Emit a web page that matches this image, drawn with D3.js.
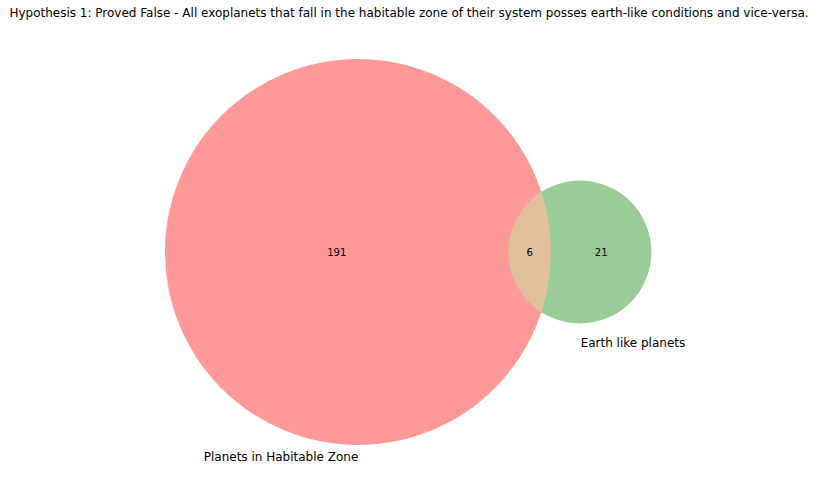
<!DOCTYPE html>
<html><head><meta charset="utf-8">
<script src="https://cdn.jsdelivr.net/npm/d3@7"></script>
<style>body{margin:0;background:#fff}text{font-family:"DejaVu Sans",sans-serif}</style>
</head><body><svg width="818" height="488"></svg>
<script>
var setNames = ["Planets in Habitable Zone", "Earth like planets"];
var onlyA = 191, onlyB = 21, both = 6;
var title = "Hypothesis 1: Proved False - All exoplanets that fall in the habitable zone of their system posses earth-like conditions and vice-versa.";

var svg = d3.select("svg");
var sizeA = onlyA + both, sizeB = onlyB + both;

// radius proportional to sqrt(area)
var r = d3.scaleSqrt().domain([0, sizeA]).range([0, 193]);
var rA = r(sizeA), rB = r(sizeB);
var k = rA * rA / sizeA; // px^2 per unit scaled by pi later
function lens(d) {
  var a = rA, b = rB;
  if (d >= a + b) return 0;
  var p1 = a * a * Math.acos((d * d + a * a - b * b) / (2 * d * a));
  var p2 = b * b * Math.acos((d * d + b * b - a * a) / (2 * d * b));
  var p3 = 0.5 * Math.sqrt((-d + a + b) * (d + a - b) * (d - a + b) * (d + a + b));
  return p1 + p2 - p3;
}
var target = both * Math.PI * k;
var lo = rA - rB, hi = rA + rB;
for (var i = 0; i < 60; i++) { var m = (lo + hi) / 2; if (lens(m) > target) lo = m; else hi = m; }
var dist = (lo + hi) / 2;

var cy = 252, cxA = 358, cxB = cxA + dist;

svg.append("text").attr("x", 409).attr("y", 17).attr("text-anchor", "middle")
  .style("font-size", "12px").text(title);

svg.append("defs").append("clipPath").attr("id", "clipB")
  .append("circle").attr("cx", cxB).attr("cy", cy).attr("r", rB);

svg.append("circle").attr("cx", cxA).attr("cy", cy).attr("r", rA).attr("fill", "#ff9999");
svg.append("circle").attr("cx", cxB).attr("cy", cy).attr("r", rB).attr("fill", "#99cc99");
svg.append("circle").attr("cx", cxA).attr("cy", cy).attr("r", rA).attr("fill", "#e0c09c")
  .attr("clip-path", "url(#clipB)");

var counts = [
  {v: onlyA, x: ((cxA - rA) + (cxB - rB)) / 2},
  {v: both, x: ((cxB - rB) + (cxA + rA)) / 2},
  {v: onlyB, x: ((cxA + rA) + (cxB + rB)) / 2}
];
svg.selectAll(".cnt").data(counts).enter().append("text")
  .attr("x", function (d) { return d.x; }).attr("y", cy + 4)
  .attr("text-anchor", "middle").style("font-size", "10px")
  .text(function (d) { return d.v; });

svg.append("text").attr("x", cxA - 77).attr("y", cy + rA + 16)
  .attr("text-anchor", "middle").style("font-size", "12px").text(setNames[0]);
svg.append("text").attr("x", cxB + 53).attr("y", cy + rB + 24)
  .attr("text-anchor", "middle").style("font-size", "12px").text(setNames[1]);
</script></body></html>
